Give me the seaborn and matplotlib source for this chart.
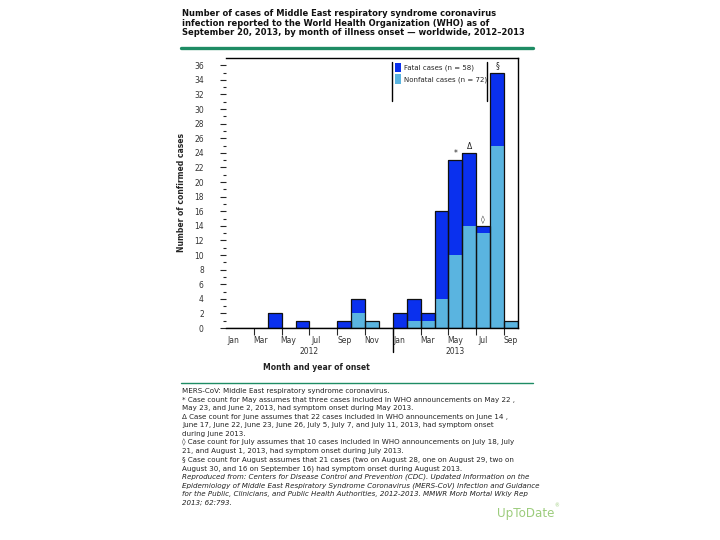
import matplotlib
matplotlib.use("Agg")
import matplotlib.pyplot as plt
import seaborn as sns
import pandas as pd
from matplotlib.lines import Line2D
from matplotlib.patches import Patch

# ---- data ----
months = ["2012-01", "2012-02", "2012-03", "2012-04", "2012-05", "2012-06", "2012-07",
          "2012-08", "2012-09", "2012-10", "2012-11", "2012-12",
          "2013-01", "2013-02", "2013-03", "2013-04", "2013-05", "2013-06", "2013-07",
          "2013-08", "2013-09"]
fatal = [0, 0, 0, 2, 0, 1, 0, 0, 1, 2, 0, 0, 2, 3, 1, 12, 13, 10, 1, 10, 0]
nonfatal = [0, 0, 0, 0, 0, 0, 0, 0, 0, 2, 1, 0, 0, 1, 1, 4, 10, 14, 13, 25, 1]
tick_labels = ["Jan", "Mar", "May", "Jul", "Sep", "Nov", "Jan", "Mar", "May", "Jul", "Sep"]
years = ["2012", "2013"]
footnote_marks = {"2013-05": "*", "2013-06": "Δ", "2013-07": "◊", "2013-08": "§"}

df = pd.DataFrame({"month": months, "fatal": fatal, "nonfatal": nonfatal})
df["total"] = df["fatal"] + df["nonfatal"]

DARK = "#0a30ee"
LIGHT = "#5ab4e0"
GREEN = "#1e8c64"

sns.set_style("white")
plt.rcParams["font.family"] = ["DejaVu Sans"]

fig = plt.figure(figsize=(7.2, 5.4), dpi=100)
ax = fig.add_axes([226 / 720, 1 - 328 / 540, (518 - 226) / 720, (328 - 58) / 540])

sns.barplot(data=df, x="month", y="total", color=DARK, width=1.0, linewidth=0,
            saturation=1, ax=ax)
sns.barplot(data=df, x="month", y="nonfatal", color=LIGHT, width=1.0, linewidth=0,
            saturation=1, ax=ax)
sns.barplot(data=df, x="month", y="total", facecolor="none", edgecolor="#111111",
            width=1.0, linewidth=0.9, ax=ax)

ax.set_xlim(-0.5, len(months) - 0.5)
ax.set_ylim(0, 37)

# spines
ax.spines["left"].set_visible(False)
for s in ["top", "right", "bottom"]:
    ax.spines[s].set_visible(True)
    ax.spines[s].set_color("black")
    ax.spines[s].set_linewidth(1.0)

# y ticks
ax.set_yticks(range(0, 37, 2))
ax.set_yticks(range(1, 37, 2), minor=True)
ax.tick_params(axis="y", which="major", length=4, width=0.8, pad=12, labelsize=5.5,
               labelcolor="#333333", left=True)
ax.tick_params(axis="y", which="minor", length=2, width=0.8, left=True)

# x ticks
ax.set_xticks(range(0, len(months), 2))
ax.set_xticklabels(tick_labels)
ax.set_xticks([i + 0.5 for i in range(1, len(months) - 1, 2)], minor=True)
ax.tick_params(axis="x", which="major", length=0, pad=6, labelsize=5.5, labelcolor="#333333")
ax.tick_params(axis="x", which="minor", length=5, width=0.8, bottom=True, direction="out")
ax.set_xlabel("")
ax.set_ylabel("Number of confirmed cases", fontsize=5.5, fontweight="bold", labelpad=6)

# year divider
div_x = months.index("2013-01") - 0.5
ax.add_line(Line2D([div_x, div_x], [0, -0.09], transform=ax.get_xaxis_transform(),
                   color="black", lw=1.0, clip_on=False))
ax.text(5.5, -0.088, years[0], transform=ax.get_xaxis_transform(), ha="center",
        va="center", fontsize=5.5, color="#333333")
ax.text(16.0, -0.088, years[1], transform=ax.get_xaxis_transform(), ha="center",
        va="center", fontsize=5.5, color="#333333")
fig.text(316 / 720, 1 - 368 / 540, "Month and year of onset", ha="center", va="center",
         fontsize=5.5, fontweight="bold", color="#222222")

# footnote marks on bars
for m, sym in footnote_marks.items():
    i = months.index(m)
    ax.text(i, df["total"][i] + 0.3, sym, ha="center", va="bottom", fontsize=5.5,
            color="#222222")

# legend
handles = [Patch(facecolor=DARK, edgecolor="none",
                 label=f"Fatal cases (n = {sum(fatal)})"),
           Patch(facecolor=LIGHT, edgecolor="none",
                 label=f"Nonfatal cases (n = {sum(nonfatal)})")]
ax.legend(handles=handles, loc="upper left", bbox_to_anchor=(0.57, 0.993),
          frameon=False, fontsize=5.0, handlelength=0.9, handleheight=1.7,
          handletextpad=0.4, labelspacing=0.3, borderaxespad=0)
for lx in (392, 487):
    fig.add_artist(Line2D([lx / 720, lx / 720], [1 - 62 / 540, 1 - 101 / 540],
                          transform=fig.transFigure, color="black", lw=1.0))

# title
title = ("Number of cases of Middle East respiratory syndrome coronavirus\n"
         "infection reported to the World Health Organization (WHO) as of\n"
         "September 20, 2013, by month of illness onset — worldwide, 2012–2013")
fig.text(182 / 720, 1 - 9 / 540, title, ha="left", va="top", fontsize=6.0,
         fontweight="bold", color="#111111", linespacing=1.1)
fig.add_artist(Line2D([181 / 720, 533 / 720], [1 - 48 / 540, 1 - 48 / 540],
                      transform=fig.transFigure, color=GREEN, lw=2.4))
fig.add_artist(Line2D([181 / 720, 533 / 720], [1 - 383 / 540, 1 - 383 / 540],
                      transform=fig.transFigure, color=GREEN, lw=1.0))

# footnotes
notes = [
    "MERS-CoV: Middle East respiratory syndrome coronavirus.",
    "* Case count for May assumes that three cases included in WHO announcements on May 22 ,",
    "May 23, and June 2, 2013, had symptom onset during May 2013.",
    "Δ Case count for June assumes that 22 cases included in WHO announcements on June 14 ,",
    "June 17, June 22, June 23, June 26, July 5, July 7, and July 11, 2013, had symptom onset",
    "during June 2013.",
    "◊ Case count for July assumes that 10 cases included in WHO announcements on July 18, July",
    "21, and August 1, 2013, had symptom onset during July 2013.",
    "§ Case count for August assumes that 21 cases (two on August 28, one on August 29, two on",
    "August 30, and 16 on September 16) had symptom onset during August 2013.",
]
source = [
    "Reproduced from: Centers for Disease Control and Prevention (CDC). Updated Information on the",
    "Epidemiology of Middle East Respiratory Syndrome Coronavirus (MERS-CoV) Infection and Guidance",
    "for the Public, Clinicians, and Public Health Authorities, 2012-2013. MMWR Morb Mortal Wkly Rep",
    "2013; 62:793.",
]
y0 = 391
step = 8.6
for k, line in enumerate(notes + source):
    fig.text(182 / 720, 1 - (y0 + k * step) / 540, line, ha="left", va="center",
             fontsize=5.15, color="#222222",
             style="italic" if k >= len(notes) else "normal")

fig.text(497 / 720, 1 - 514 / 540, "UpToDate", ha="left", va="center", fontsize=8.6,
         color="#9ccc7c")
fig.text(554 / 720, 1 - 506 / 540, "®", ha="left", va="center", fontsize=3.5,
         color="#9ccc7c")

fig.savefig("out.png", dpi=100)
